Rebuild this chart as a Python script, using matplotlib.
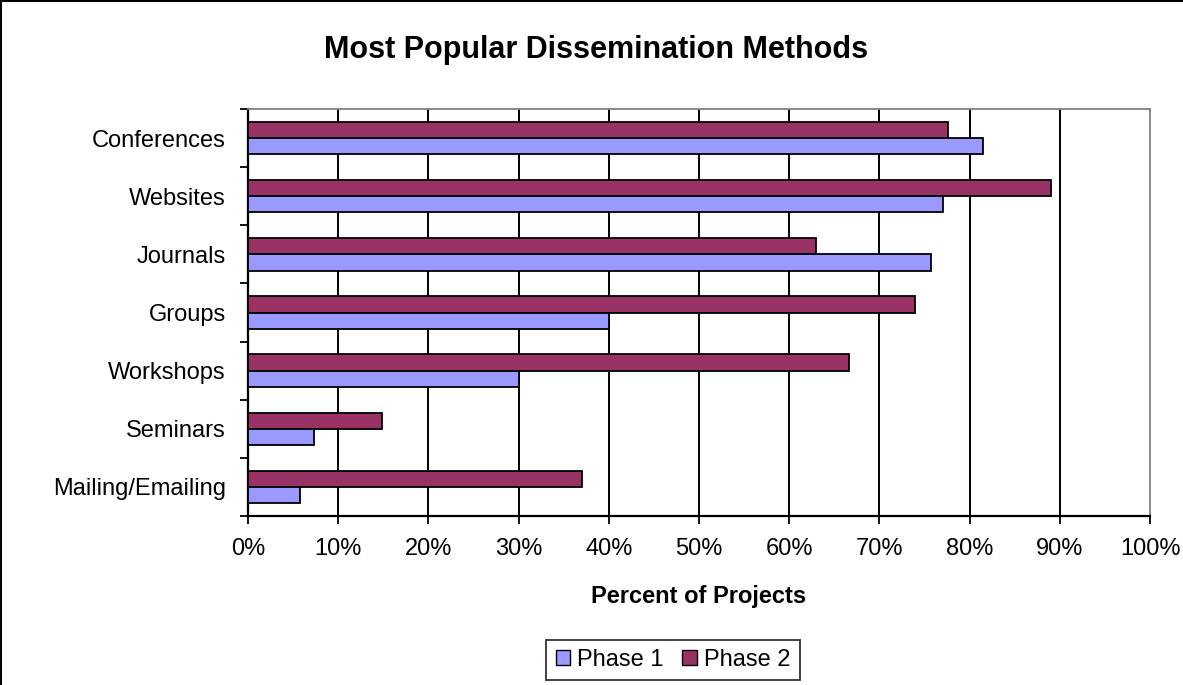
import numpy as np
import matplotlib.pyplot as plt
from matplotlib.patches import Patch
from matplotlib.lines import Line2D

# Chart data
methods = ['Conferences', 'Websites', 'Journals', 'Groups',
           'Workshops', 'Seminars', 'Mailing/Emailing']
phase1 = [81.5, 77.0, 75.7, 40.0, 30.0, 7.3, 5.8]
phase2 = [77.6, 89.0, 63.0, 74.0, 66.6, 14.9, 37.0]
x_ticks = [0, 10, 20, 30, 40, 50, 60, 70, 80, 90, 100]

color_p1 = '#9999FF'
color_p2 = '#993366'

plt.rcParams['font.family'] = ['Liberation Sans', 'DejaVu Sans']

fig = plt.figure(figsize=(11.83, 6.85), dpi=100)
fig.patch.set_facecolor('white')
ax = fig.add_axes([248 / 1183, 1 - 516 / 685, 902 / 1183, 407 / 685])

# Conferences on top
y = np.arange(len(methods))[::-1]
h = 0.28
ax.barh(y + h / 2, phase2, height=h, color=color_p2, edgecolor='black', linewidth=1.3, zorder=3)
ax.barh(y - h / 2, phase1, height=h, color=color_p1, edgecolor='black', linewidth=1.3, zorder=3)

ax.set_xlim(0, 100)
ax.set_ylim(-0.5, len(methods) - 0.5)

# vertical gridlines
ax.set_xticks(x_ticks)
ax.set_xticklabels([f'{t}%' for t in x_ticks], fontsize=17)
for t in x_ticks[1:-1]:
    ax.axvline(t, color='black', lw=1.4, zorder=1)

# category labels between tick marks (Excel style)
ax.set_yticks(y)
ax.set_yticklabels(methods, fontsize=17)
ax.set_yticks(np.arange(len(methods) + 1) - 0.5, minor=True)
ax.tick_params(axis='y', which='major', length=0, pad=16)
ax.tick_params(axis='y', which='minor', length=6, width=1.3, direction='out', color='black')
ax.tick_params(axis='x', length=6, width=1.3, direction='out', pad=10, color='black')

for side in ['left', 'bottom']:
    ax.spines[side].set_color('black')
    ax.spines[side].set_linewidth(1.6)
for side in ['top', 'right']:
    ax.spines[side].set_color('#808080')
    ax.spines[side].set_linewidth(1.3)

# title and axis label
fig.text(0.504, 1 - 50 / 685, 'Most Popular Dissemination Methods',
         ha='center', va='center', fontsize=22, fontweight='bold')
fig.text(699 / 1183, 1 - 597 / 685, 'Percent of Projects',
         ha='center', va='center', fontsize=17, fontweight='bold')

# legend
handles = [Patch(facecolor=color_p1, edgecolor='black', label='Phase 1'),
           Patch(facecolor=color_p2, edgecolor='black', label='Phase 2')]
leg = fig.legend(handles=handles, loc='center', ncol=2,
                 bbox_to_anchor=(673 / 1183, 1 - 660 / 685), fontsize=17,
                 frameon=True, fancybox=False, edgecolor='black',
                 handlelength=0.6, handleheight=0.6, handletextpad=0.3,
                 columnspacing=0.8, borderpad=0.4)
leg.get_frame().set_linewidth(1.3)

# outer chart border (left and top visible)
fig.add_artist(Line2D([0.0012, 0.0012], [0, 1], color='black', lw=1.5, transform=fig.transFigure))
fig.add_artist(Line2D([0, 1], [0.998, 0.998], color='black', lw=1.5, transform=fig.transFigure))

plt.savefig('out.png', dpi=100)
